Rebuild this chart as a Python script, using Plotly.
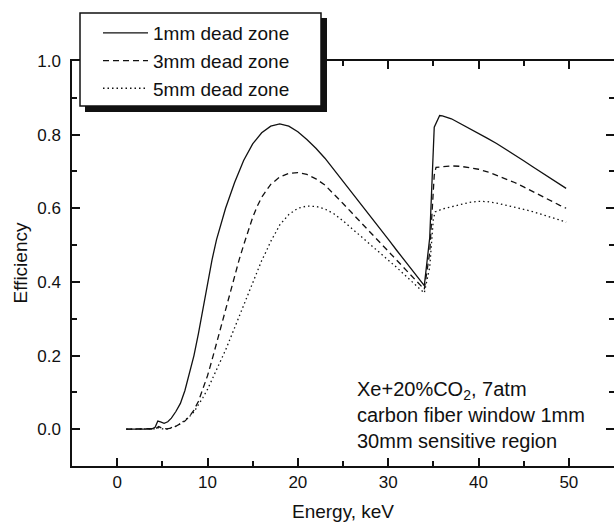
import plotly.graph_objects as go

# ---- data ----
x_1mm = [1, 3.8, 4.2, 4.5, 4.8, 5.2, 5.6, 6.0, 6.5, 7.0, 7.5, 8.0, 8.5, 9.0, 9.5, 10.0, 10.5, 11.0, 11.5,
         12, 13, 14, 15, 16, 17, 18, 19, 20, 21, 22, 23, 24, 25, 26, 27, 28, 29, 30, 31, 32, 33, 34,
         34.6, 35.1, 35.7, 36, 37, 38, 39, 40, 41, 42, 43, 44, 45, 46, 47, 48, 49, 49.7]
y_1mm = [0, 0, 0.005, 0.022, 0.02, 0.016, 0.02, 0.03, 0.048, 0.07, 0.105, 0.15, 0.2, 0.26, 0.33, 0.40, 0.46, 0.515, 0.56,
         0.60, 0.67, 0.73, 0.775, 0.805, 0.823, 0.829, 0.823, 0.808, 0.787, 0.763, 0.736, 0.705, 0.673, 0.641, 0.610, 0.579,
         0.547, 0.516, 0.484, 0.453, 0.421, 0.39,
         0.52, 0.82, 0.852, 0.851, 0.843, 0.83, 0.818, 0.804, 0.79, 0.776, 0.761, 0.745, 0.729, 0.713, 0.697, 0.681, 0.665, 0.654]

x_3mm = [1, 3.8, 4.3, 4.6, 5.0, 5.5, 6.0, 6.5, 7.0, 7.5, 8.0, 8.5, 9.0, 9.5, 10, 10.5, 11, 11.5, 12, 12.5, 13, 13.5,
         14, 14.5, 15, 15.5, 16, 17, 18, 19, 20, 21, 22, 23, 24, 25, 26, 27, 28, 29, 30, 31, 32, 33, 34,
         34.6, 35.1, 35.3, 36, 37, 38, 39, 40, 41, 42, 43, 44, 45, 46, 47, 48, 49, 49.7]
y_3mm = [0, 0, 0.002, 0.007, 0.002, 0.001, 0.003, 0.008, 0.014, 0.022, 0.035, 0.052, 0.076, 0.108, 0.145, 0.188, 0.233,
         0.278, 0.325, 0.375, 0.42, 0.46, 0.50, 0.54, 0.575, 0.605, 0.63, 0.665, 0.685, 0.695, 0.697, 0.692, 0.68, 0.663,
         0.639, 0.613, 0.587, 0.561, 0.535, 0.509, 0.483, 0.458, 0.432, 0.406, 0.38,
         0.48, 0.69, 0.711, 0.713, 0.715, 0.714, 0.711, 0.706, 0.699, 0.69, 0.681, 0.67, 0.658, 0.645, 0.633, 0.62, 0.608, 0.60]

x_5mm = [1, 3.8, 4.3, 4.6, 5.0, 5.5, 6.0, 6.5, 7.0, 7.5, 8.0, 8.5, 9.0, 9.5, 10, 10.5, 11, 11.5, 12, 12.5, 13, 13.5,
         14, 14.5, 15, 15.5, 16, 16.5, 17, 17.5, 18, 19, 20, 21, 22, 23, 24, 25, 26, 27, 28, 29, 30, 31, 32, 33, 34,
         34.6, 35.0, 35.2, 36, 37, 38, 39, 40, 41, 42, 43, 44, 45, 46, 47, 48, 49, 49.7]
y_5mm = [0, 0, 0.001, 0.004, 0.001, 0.0, 0.003, 0.008, 0.015, 0.024, 0.034, 0.047, 0.066, 0.086, 0.108, 0.135, 0.16,
         0.185, 0.215, 0.245, 0.275, 0.305, 0.337, 0.368, 0.40, 0.43, 0.458, 0.483, 0.51, 0.532, 0.555, 0.583, 0.60, 0.606,
         0.605, 0.598, 0.585, 0.566, 0.545, 0.524, 0.503, 0.482, 0.46, 0.438, 0.415, 0.392, 0.37,
         0.44, 0.57, 0.59, 0.598, 0.604, 0.611, 0.616, 0.619, 0.618, 0.614, 0.609, 0.603, 0.597, 0.591, 0.584, 0.576, 0.568, 0.562]

series_names = ["1mm dead zone", "3mm dead zone", "5mm dead zone"]
x_tickvals = [0, 10, 20, 30, 40, 50]
x_ticktext = ["0", "10", "20", "30", "40", "50"]
y_tickvals = [0.0, 0.2, 0.4, 0.6, 0.8, 1.0]
y_ticktext = ["0.0", "0.2", "0.4", "0.6", "0.8", "1.0"]
x_title = "Energy, keV"
y_title = "Efficiency"
note_lines = ["Xe+20%CO<sub>2</sub>, 7atm", "carbon fiber window 1mm", "30mm sensitive region"]

FONT = "Arial, Liberation Sans, sans-serif"
INK = "#111111"
FIG_W, FIG_H = 614, 522

fig = go.Figure()
fig.add_trace(go.Scatter(x=x_1mm, y=y_1mm, mode="lines", name=series_names[0],
                         line=dict(color=INK, width=1.3)))
fig.add_trace(go.Scatter(x=x_3mm, y=y_3mm, mode="lines", name=series_names[1],
                         line=dict(color=INK, width=1.3, dash="6px,4px")))
fig.add_trace(go.Scatter(x=x_5mm, y=y_5mm, mode="lines", name=series_names[2],
                         line=dict(color=INK, width=1.3, dash="1.5px,3px")))

axis_common = dict(showline=True, linecolor=INK, linewidth=1.5, mirror="ticks",
                   ticks="inside", ticklen=8, tickwidth=1.5, tickcolor=INK,
                   showgrid=False, zeroline=False,
                   tickfont=dict(family=FONT, size=17, color=INK))

fig.update_xaxes(range=[-5, 55], tickvals=x_tickvals, ticktext=x_ticktext,
                 minor=dict(dtick=5, tick0=0, ticks="inside", ticklen=5, tickwidth=1.5, tickcolor=INK),
                 title=dict(text=x_title, font=dict(family=FONT, size=19, color=INK)),
                 ticklabelstandoff=0,
                 **axis_common)
fig.update_yaxes(range=[-0.1, 1.0], tickvals=y_tickvals, ticktext=y_ticktext,
                 minor=dict(dtick=0.1, tick0=0, ticks="inside", ticklen=5, tickwidth=1.5, tickcolor=INK),
                 ticklabelstandoff=6,
                 **axis_common)

# legend frame + drop shadow (paper coords relative to plot area 72..614 x 61..466 px)
L, T, W, H = 72, 61, 542, 405
def px(xp):
    return (xp - L) / W
def py(yp):
    return (T + H - yp) / H

fig.add_shape(type="rect", xref="paper", yref="paper", x0=px(85), x1=px(327), y0=py(112), y1=py(18),
              fillcolor=INK, line=dict(width=0), layer="above")
fig.add_shape(type="rect", xref="paper", yref="paper", x0=px(80), x1=px(321), y0=py(106), y1=py(13),
              fillcolor="white", line=dict(color=INK, width=1.5), layer="above")

# y-axis title
fig.add_annotation(xref="paper", yref="paper", x=px(20), y=0.5, xanchor="center", yanchor="middle",
                   showarrow=False, text=y_title, textangle=-90,
                   font=dict(family=FONT, size=19, color=INK))

fig.add_annotation(xref="paper", yref="paper", x=px(355), y=py(415), xanchor="left", yanchor="middle",
                   align="left", showarrow=False, text="<br>".join(note_lines),
                   font=dict(family=FONT, size=20, color=INK))

fig.update_layout(
    width=FIG_W, height=FIG_H,
    margin=dict(l=72, r=0, t=61, b=56, autoexpand=False),
    paper_bgcolor="white", plot_bgcolor="white",
    showlegend=True,
    legend=dict(xref="container", yref="container",
                x=98 / FIG_W, y=1 - 14 / FIG_H, xanchor="left", yanchor="top",
                bgcolor="rgba(0,0,0,0)", borderwidth=0,
                font=dict(family=FONT, size=19, color=INK),
                itemwidth=45, tracegroupgap=0),
)

fig.write_html("out.html", config={"displayModeBar": False},
               post_script="document.body.style.margin='0';document.body.style.padding='0';"
                           "document.body.style.overflow='hidden';")
